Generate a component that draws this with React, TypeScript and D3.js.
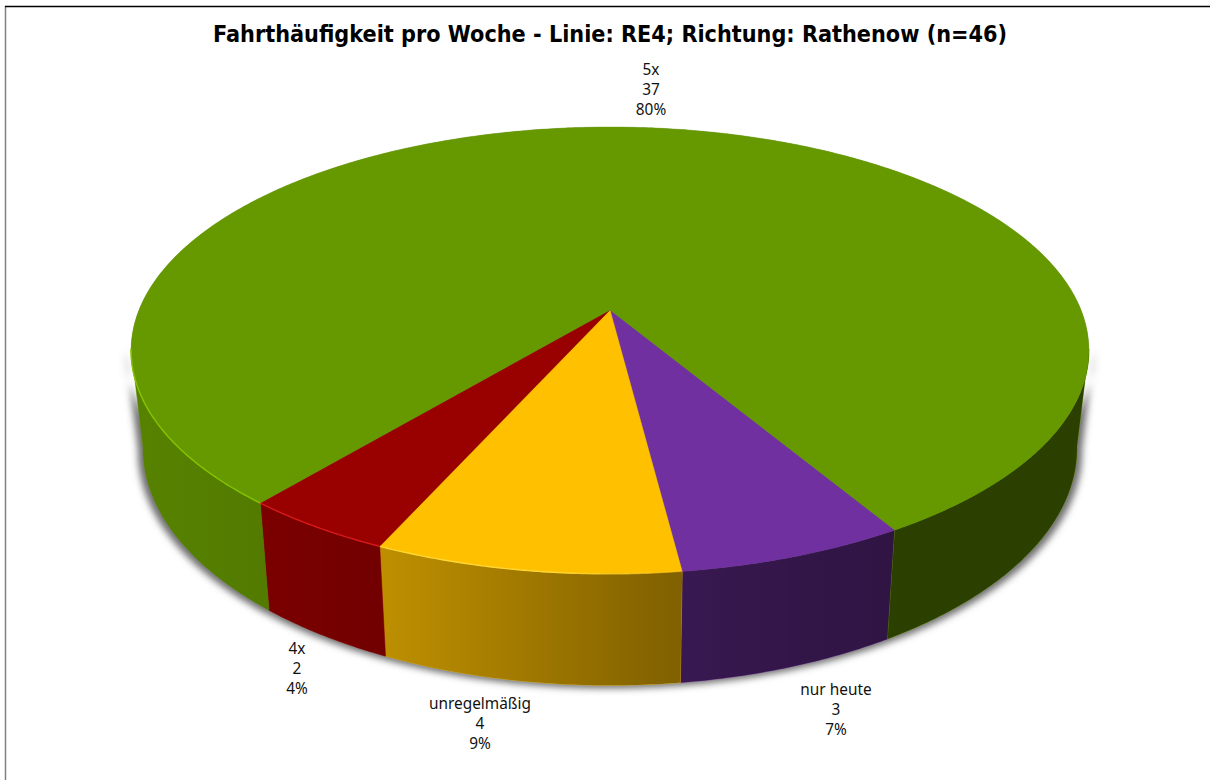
import React from "react";
import * as d3 from "d3";

const categories = ["nur heute", "unregelmäßig", "4x", "5x"];
const counts = [3, 4, 2, 37];
const sliceColors = ["#7030a0", "#ffc000", "#990000", "#669900"];
const rimColors = ["#7d3ab0", "#ffd633", "#d81818", "#86c400"];
const titleText = "Fahrthäufigkeit pro Woche - Linie: RE4; Richtung: Rathenow (n=46)";

const W = 1210, H = 780;
const total = d3.sum(counts);
const toRad = Math.PI / 180;
const START_DEG = 149.3;
const pie = d3.pie<number>().sort(null).startAngle(START_DEG * toRad).endAngle((START_DEG + 360) * toRad);
const arcs = pie(counts);

// perspective projection of the unit disc to the screen
const K = -0.181, A = 471, B = 160, CX = 610, CY = 310;
const proj = (a: number): [number, number] => {
  const X = Math.sin(a), Y = -Math.cos(a);
  const d = 1 + K * Y;
  return [CX + (A * X) / d, (B * Y + CY) / d];
};
const lower = ([x, y]: [number, number]): [number, number] => [CX + 0.975 * (x - CX), 1.06 * y + 77];
const sample = (a0: number, a1: number, step = 0.5 * toRad) => {
  const n = Math.max(2, Math.ceil(Math.abs(a1 - a0) / step));
  return d3.range(n + 1).map((i) => a0 + ((a1 - a0) * i) / n);
};
const line = d3.line<[number, number]>();
// visible side wall: angles in d3 convention
const VIS0 = 100 * toRad, VIS1 = 260 * toRad;
const wallPieces = arcs.flatMap((d, i) => {
  const ranges: [number, number][] = [
    [d.startAngle, d.endAngle],
    [d.startAngle - 2 * Math.PI, d.endAngle - 2 * Math.PI],
  ];
  return ranges
    .map(([s, e]) => [Math.max(s, VIS0), Math.min(e, VIS1)] as [number, number])
    .filter(([s, e]) => e > s)
    .map(([s, e]) => {
      const top = sample(s, e).map(proj);
      const bot = top.map(lower).reverse();
      return { i, path: line([...top, ...bot])! + "Z", top: line(top)! };
    });
});
const silhouette = (() => {
  const top = sample(0, 2 * Math.PI).map(proj);
  const bot = sample(VIS0, VIS1).map(proj).map(lower);
  return { top: line(top)! + "Z", wall: line([...sample(VIS0, VIS1).map(proj), ...bot.reverse()])! + "Z" };
})();
const faces = arcs.map((d, i) => ({
  i,
  path: line([[CX, CY], ...sample(d.startAngle, d.endAngle).map(proj)])! + "Z",
}));
const shade = d3.scaleLinear<number>().domain([140, 270, 390, 680, 890, 1085]).range([0.15, 0.2, 0.26, 0.5, 0.58, 0.58]);
const shadeStops = d3.range(0, 1.001, 0.05).map((t) => ({ t, o: shade(140 + t * 945) }));

const labelFont = "'Noto Sans', sans-serif";
const labelPos: Record<string, [number, number]> = {
  "5x": [651, 75],
  "4x": [297, 654],
  "unregelmäßig": [480, 709],
  "nur heute": [836, 695],
};
const labelRows = (i: number) => [categories[i], String(counts[i]), Math.round((counts[i] / total) * 100) + "%"];

export default function App() {
  return (
    <svg width={W} height={H} style={{ position: "absolute", left: 0, top: 0 }}>
      <defs>
        <filter id="blur" x="-5%" y="-5%" width="110%" height="110%">
          <feGaussianBlur stdDeviation="3.5" />
        </filter>
        <filter id="soft" x="-5%" y="-5%" width="110%" height="110%">
          <feGaussianBlur stdDeviation="0.7" />
        </filter>
        <linearGradient id="shade" gradientUnits="userSpaceOnUse" x1={140} x2={1085} y1={0} y2={0}>
          {shadeStops.map((s) => (
            <stop key={s.t} offset={s.t} stopColor="#000" stopOpacity={s.o} />
          ))}
        </linearGradient>
        <linearGradient id="rimFade" gradientUnits="userSpaceOnUse" x1={131} x2={700} y1={0} y2={0}>
          <stop offset={0} stopColor="#fff" stopOpacity={1} />
          <stop offset={0.75} stopColor="#fff" stopOpacity={1} />
          <stop offset={1} stopColor="#fff" stopOpacity={0} />
        </linearGradient>
        <mask id="rimMask" maskUnits="userSpaceOnUse" x={0} y={0} width={W} height={H}>
          <rect width={W} height={H} fill="url(#rimFade)" />
        </mask>
      </defs>
      <rect width={W} height={H} fill="#fff" />
      <line x1={5.5} x2={5.5} y1={6} y2={H} stroke="#808080" strokeWidth={1.5} />
      <line x1={5} x2={W} y1={6.5} y2={6.5} stroke="#000" strokeWidth={1.5} />
      <text
        x={610}
        y={42}
        textAnchor="middle"
        fontFamily="'DejaVu Sans', sans-serif"
        fontWeight="bold"
        fontSize={22.5}
        textLength={794}
        lengthAdjust="spacingAndGlyphs"
      >
        {titleText}
      </text>

      <g transform="translate(0,3)" filter="url(#blur)" fill="#6e6e6e">
        <path d={silhouette.wall} transform="translate(610,0) scale(1.011,1) translate(-610,0)" />
      </g>

      {wallPieces.map((w, k) => (
        <g key={k}>
          <path d={w.path} fill={sliceColors[w.i]} stroke={sliceColors[w.i]} strokeWidth={0.5} />
          <path d={w.path} fill="url(#shade)" />
        </g>
      ))}

      <path d={silhouette.top} fill="#1c2a00" filter="url(#soft)" opacity={0.5} />
      {faces.map((f) => (
        <path key={f.i} d={f.path} fill={sliceColors[f.i]} stroke={sliceColors[f.i]} strokeWidth={0.4} />
      ))}
      <g mask="url(#rimMask)">
        {wallPieces.map((w, k) => (
          <path key={k} d={w.top} fill="none" stroke={rimColors[w.i]} strokeWidth={1.4} />
        ))}
      </g>

      {categories.map((c, i) => {
        const [x, y] = labelPos[c];
        return (
          <text key={c} textAnchor="middle" fontFamily={labelFont} fontSize={15.4} fill="#111">
            {labelRows(i).map((t, r) => (
              <tspan key={r} x={x} y={y + r * 20}>
                {t}
              </tspan>
            ))}
          </text>
        );
      })}
    </svg>
  );
}
